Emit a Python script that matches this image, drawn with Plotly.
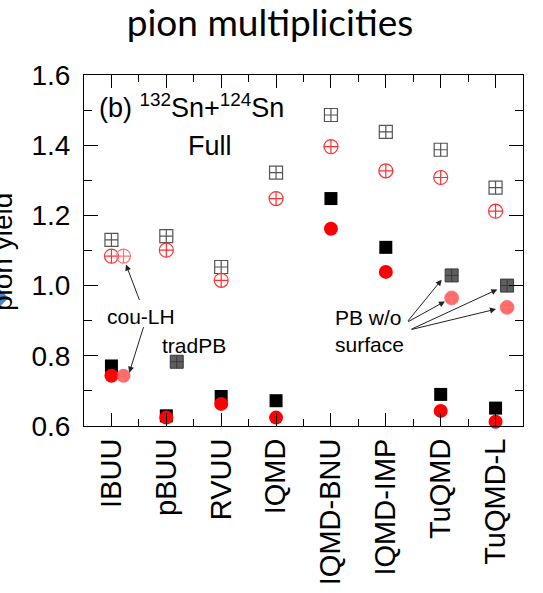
import plotly.graph_objects as go

models = ["IBUU", "pBUU", "RVUU", "IQMD", "IQMD-BNU", "IQMD-IMP", "TuQMD", "TuQMD-L"]
open_sq = [1.130, 1.141, 1.053, 1.322, 1.486, 1.438, 1.387, 1.279]
open_ci = [1.084, 1.101, 1.015, 1.248, 1.396, 1.327, 1.308, 1.212]
fill_sq = [0.771, 0.629, 0.684, 0.672, 1.248, 1.109, 0.690, 0.651]
fill_ci = [0.743, 0.624, 0.663, 0.624, 1.162, 1.039, 0.643, 0.612]

# variant calculations (x given as category index + small offset)
coulh_x = [0.22]
coulh_open = [1.084]
coulh_fill = [0.743]
tradpb_x = [1.19]
tradpb_sq = [0.783]
pbws_x = [6.20, 7.21]
pbws_sq = [1.029, 1.000]
pbws_ci = [0.965, 0.938]

yticks = [0.6, 0.8, 1.0, 1.2, 1.4, 1.6]
yminor = [0.7, 0.9, 1.1, 1.3, 1.5]

xi = list(range(len(models)))
FONT = "Liberation Sans, Arial, sans-serif"

fig = go.Figure()
fig.add_trace(go.Scatter(x=xi, y=open_sq, mode="markers", cliponaxis=False,
                         marker=dict(symbol="square-cross-open", size=13, color="#555555",
                                     line=dict(width=1.2, color="#555555"))))
fig.add_trace(go.Scatter(x=xi, y=open_ci, mode="markers", cliponaxis=False,
                         marker=dict(symbol="circle-cross-open", size=14, color="#ff3030",
                                     line=dict(width=1.2, color="#ff3030"))))
fig.add_trace(go.Scatter(x=xi, y=fill_sq, mode="markers", cliponaxis=False,
                         marker=dict(symbol="square", size=13, color="black")))
fig.add_trace(go.Scatter(x=xi, y=fill_ci, mode="markers", cliponaxis=False,
                         marker=dict(symbol="circle", size=14, color="#ff0000")))
# cou-LH
fig.add_trace(go.Scatter(x=coulh_x, y=coulh_open, mode="markers", cliponaxis=False,
                         marker=dict(symbol="circle-cross-open", size=14, color="#ff7070",
                                     line=dict(width=1.2, color="#ff7070"))))
fig.add_trace(go.Scatter(x=coulh_x, y=coulh_fill, mode="markers", cliponaxis=False,
                         marker=dict(symbol="circle", size=14, color="rgba(255,60,60,0.75)")))
# tradPB
fig.add_trace(go.Scatter(x=tradpb_x, y=tradpb_sq, mode="markers", cliponaxis=False,
                         marker=dict(symbol="square-cross", size=13, color="#5e5e5e",
                                     line=dict(width=1, color="#3a3a3a"))))
# PB w/o surface
fig.add_trace(go.Scatter(x=pbws_x, y=pbws_sq, mode="markers", cliponaxis=False,
                         marker=dict(symbol="square-cross", size=13, color="#5e5e5e",
                                     line=dict(width=1, color="#3a3a3a"))))
fig.add_trace(go.Scatter(x=pbws_x, y=pbws_ci, mode="markers", cliponaxis=False,
                         marker=dict(symbol="circle-cross", size=14, color="rgba(255,70,70,0.8)",
                                     line=dict(width=1, color="rgba(255,120,120,0.8)"))))

anns = []
anns.append(dict(x=-0.263, y=1.511, xref="x", yref="y", xanchor="left", yanchor="middle",
                 text="(b) <sup>132</sup>Sn+<sup>124</sup>Sn", showarrow=False,
                 font=dict(family=FONT, size=27, color="black")))
anns.append(dict(x=1.796, y=1.397, xref="x", yref="y", text="Full", showarrow=False,
                 font=dict(family=FONT, size=27, color="black")))
anns.append(dict(x=0.53, y=0.912, xref="x", yref="y", text="cou-LH", showarrow=False,
                 font=dict(family=FONT, size=21, color="black")))
anns.append(dict(x=1.5, y=0.829, xref="x", yref="y", text="tradPB", showarrow=False,
                 font=dict(family=FONT, size=21, color="black")))
anns.append(dict(x=4.03, y=0.871, xref="x", yref="y", xanchor="left", align="left",
                 text="PB w/o<br>surface", showarrow=False,
                 font=dict(family=FONT, size=21, color="black")))
arrows = [
    ((0.52, 0.955), (0.265, 1.060)),
    ((0.593, 0.886), (0.325, 0.752)),
    ((5.381, 0.895), (6.018, 1.017)),
    ((5.381, 0.895), (6.078, 0.955)),
    ((5.441, 0.874), (7.032, 0.989)),
    ((5.441, 0.874), (7.008, 0.933)),
]
for (tx, ty), (hx, hy) in arrows:
    anns.append(dict(x=hx, y=hy, ax=tx, ay=ty, xref="x", yref="y", axref="x", ayref="y",
                     text="", showarrow=True, arrowhead=2, arrowsize=1.2, arrowwidth=1,
                     arrowcolor="#222222"))
# y-axis title (partly cut at the left edge)
anns.append(dict(x=(2 - 84) / 439, y=(426 - 252) / 351, xref="paper", yref="paper",
                 xanchor="center", yanchor="middle",
                 text="pion yield", textangle=-90, showarrow=False,
                 font=dict(family=FONT, size=28, color="black")))

def px2paper(px, py):
    return (px - 84) / 439, (426 - py) / 351

d_pts = [px2paper(0, 289.5), px2paper(8.5, 298), px2paper(0, 306.5), px2paper(-8.5, 298)]
d_path = "M " + " L ".join("{:.4f},{:.4f}".format(a, b) for a, b in d_pts) + " Z"

fig.update_layout(
    template="none",
    width=543, height=593,
    margin=dict(l=84, r=20, t=75, b=167, autoexpand=False),
    paper_bgcolor="white", plot_bgcolor="white",
    showlegend=False,
    title=dict(text="pion multiplicities", x=270 / 543, xanchor="center", xref="container",
               y=1 - 23 / 593, yanchor="middle", yref="container",
               font=dict(family="Lato, Open Sans, sans-serif", size=37, color="black")),
    annotations=anns,
    shapes=[dict(type="path", xref="paper", yref="paper", layer="above",
                 path=d_path, fillcolor="#4a86c8", line=dict(width=0))],
)
fig.update_xaxes(range=[-0.5, 7.5], tickmode="array", tickvals=xi, ticktext=models,
                 automargin=False,
                 tickangle=-90, ticks="inside", ticklen=13, tickwidth=1, tickcolor="black",
                 showline=True, linecolor="black", linewidth=1, mirror="ticks",
                 showgrid=False, zeroline=False,
                 tickfont=dict(family=FONT, size=29, color="black"),
                 minor=dict(tickmode="array", tickvals=[i + 0.5 for i in range(7)],
                            ticks="inside", ticklen=7, tickcolor="black", showgrid=False))
fig.update_yaxes(range=[0.6, 1.6], tickmode="array", tickvals=yticks,
                 ticktext=["{:.1f}".format(v) for v in yticks],
                 automargin=False,
                 ticks="inside", ticklen=14, tickwidth=1, tickcolor="black",
                 showline=True, linecolor="black", linewidth=1, mirror="ticks",
                 showgrid=False, zeroline=False, ticklabelstandoff=7,
                 tickfont=dict(family=FONT, size=28, color="black"),
                 minor=dict(tickmode="array", tickvals=yminor,
                            ticks="inside", ticklen=8, tickcolor="black", showgrid=False))

fig.write_html("out.html")
